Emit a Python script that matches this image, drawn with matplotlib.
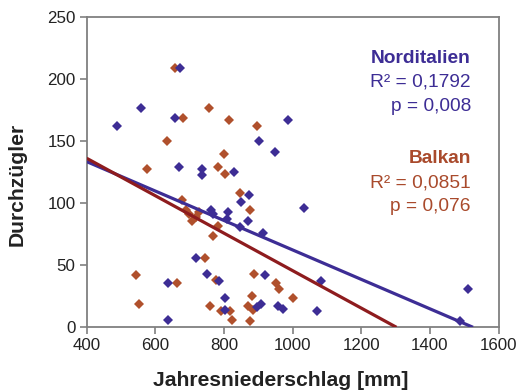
import matplotlib
matplotlib.use("Agg")
import matplotlib.pyplot as plt
import numpy as np

plt.rcParams['font.family'] = ['Liberation Sans', 'DejaVu Sans']

# Norditalien (blue) data: precipitation [mm], Durchzügler
nord_x = [489, 559, 658, 672, 669, 735, 735, 829, 901, 948, 987, 873, 850, 761, 769,
          812, 808, 871, 846, 914, 1032, 718, 752, 638, 786, 803, 803, 919, 895, 908,
          958, 973, 1072, 1082, 1510, 1487, 638]
nord_y = [162, 177, 169, 209, 129, 128, 123, 125, 150, 141, 167, 107, 101, 95, 91,
          93, 87, 86, 81, 76, 96, 56, 43, 36, 37, 24, 14, 42, 16, 19,
          17, 15, 13, 37, 31, 5, 6]

# Balkan (orange) data
balk_x = [657, 682, 757, 816, 895, 633, 800, 575, 782, 803, 848, 876, 679, 688, 698,
          706, 718, 728, 783, 769, 745, 543, 662, 778, 759, 790, 819, 822, 888, 953,
          960, 882, 869, 885, 876, 1002, 553]
balk_y = [209, 169, 177, 167, 162, 150, 140, 128, 129, 124, 108, 95, 103, 95, 91,
          86, 89, 93, 82, 74, 56, 42, 36, 38, 17, 13, 13, 6, 43, 36,
          31, 25, 17, 14, 5, 24, 18.5]

# regression lines (intercept, slope)
nord_fit = (181.1, -0.1187)
balk_fit = (196.7, -0.1510)

nord_labels = ["Norditalien", "R\u00b2 = 0,1792", "p = 0,008"]
balk_labels = ["Balkan", "R\u00b2 = 0,0851", "p = 0,076"]

xticks = [400, 600, 800, 1000, 1200, 1400, 1600]
yticks = [0, 50, 100, 150, 200, 250]

c_blue = '#3d2d95'
c_orange = '#b0502c'
c_red = '#8e1c1e'
c_text_orange = '#a94a2c'
c_spine = '#808080'

W, H = 519, 392
fig = plt.figure(figsize=(W / 100, H / 100), dpi=100)
ax = fig.add_axes([86.7 / W, 1 - 327.3 / H, (498.5 - 86.7) / W, (327.3 - 17.3) / H])

ax.plot(balk_x, balk_y, linestyle='none', marker='D', ms=5.3, color=c_orange,
        markeredgewidth=0, zorder=3)
ax.plot(nord_x, nord_y, linestyle='none', marker='D', ms=5.3, color=c_blue,
        markeredgewidth=0, zorder=3)

x0 = 400
for (b, m), col in [(nord_fit, c_blue), (balk_fit, c_red)]:
    xe = -b / m
    xs = np.array([x0, xe])
    ax.plot(xs, b + m * xs, color=col, lw=2.3, solid_capstyle='butt', zorder=4)

ax.set_xlim(400, 1600)
ax.set_ylim(0, 250)
ax.set_xticks(xticks)
ax.set_yticks(yticks)
ax.tick_params(axis='both', direction='out', length=5, width=1.2, color=c_spine,
               labelsize=12.2, labelcolor='#222222', pad=3)
for s in ax.spines.values():
    s.set_color(c_spine)
    s.set_linewidth(1.3)

ax.set_xlabel("Jahresniederschlag [mm]", fontsize=15.2, fontweight='bold',
              color='#222222')
ax.xaxis.set_label_coords(0.472, -0.14)
ax.set_ylabel("Durchzügler", fontsize=15.2, fontweight='bold', color='#222222')
ax.yaxis.set_label_coords(-0.146, 0.46)

def px2data(px, py):
    xd = 400 + (px - 86.7) * 1200 / (498.5 - 86.7)
    yd = (327.3 - py) * 250 / (327.3 - 17.3)
    return xd, yd

for i, (t, py) in enumerate(zip(nord_labels, [63.3, 86.7, 110.7])):
    x, y = px2data(471, py)
    ax.text(x, y, t, ha='right', va='baseline', color=c_blue, fontsize=13.8,
            fontweight='bold' if i == 0 else 'normal')
for i, (t, py) in enumerate(zip(balk_labels, [163.3, 187.3, 210.7])):
    x, y = px2data(471, py)
    ax.text(x, y, t, ha='right', va='baseline', color=c_text_orange, fontsize=13.8,
            fontweight='bold' if i == 0 else 'normal')

fig.savefig("out.png", dpi=100)
